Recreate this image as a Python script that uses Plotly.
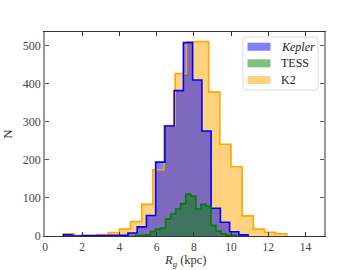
import numpy as np
import plotly.graph_objects as go

# ---- data ----
kepler_range = (0.98, 10.92)
kepler_counts = [3, 0, 1, 1, 1, 2, 2, 8, 24, 54, 194, 289, 382, 508, 410, 276, 73, 36, 11, 3]

tess_range = (4.85, 10.28)
tess_counts = [1, 2, 3, 12, 18, 21, 45, 58, 71, 85, 110, 105, 71, 83, 78, 28, 13, 6, 2, 2]

k2_range = (1.0, 13.0)
k2_counts = [6, 1, 1, 4, 9, 18, 38, 83, 174, 290, 427, 510, 511, 378, 241, 182, 53, 18, 10, 6]

x_ticks = [0, 2, 4, 6, 8, 10, 12, 14]
y_ticks = [0, 100, 200, 300, 400, 500]

FONT = "Liberation Serif, Times New Roman, serif"

fig = go.Figure()


def add_hist(counts, rng, fill, edge):
    counts = np.asarray(counts, dtype=float)
    edges = np.linspace(rng[0], rng[1], len(counts) + 1)
    centers = 0.5 * (edges[:-1] + edges[1:])
    widths = np.diff(edges)
    fig.add_trace(go.Bar(x=centers, y=counts, width=widths, marker=dict(color=fill, line=dict(width=0)),
                         showlegend=False, hoverinfo="skip"))
    xs = np.concatenate([[edges[0]], edges[:-1], [edges[-1], edges[-1]]])
    ys = np.concatenate([[0], counts, [counts[-1], 0]])
    fig.add_trace(go.Scatter(x=xs, y=ys, mode="lines", line=dict(color=edge, width=1.6, shape="hv"),
                             showlegend=False, hoverinfo="skip"))


# draw order: K2 at bottom, Kepler, then TESS on top
add_hist(k2_counts, k2_range, "rgba(255,165,0,0.5)", "#FFA500")
add_hist(kepler_counts, kepler_range, "rgba(0,0,255,0.5)", "#0000FF")
add_hist(tess_counts, tess_range, "rgba(0,128,0,0.5)", "#008000")

# ---- custom legend ----
W, H = 279.0, 204.0
def px(x):
    return (x - 45) / W
def py(y):
    return (236 - y) / H

shapes = []
r = 3
shapes.append(dict(type="path", xref="paper", yref="paper",
                   path=(f"M {px(243+r)},{py(37)} L {px(318-r)},{py(37)} Q {px(318)},{py(37)} {px(318)},{py(37+r)} "
                         f"L {px(318)},{py(90-r)} Q {px(318)},{py(90)} {px(318-r)},{py(90)} "
                         f"L {px(243+r)},{py(90)} Q {px(243)},{py(90)} {px(243)},{py(90-r)} "
                         f"L {px(243)},{py(37+r)} Q {px(243)},{py(37)} {px(243+r)},{py(37)} Z"),
                   line=dict(color="#dddddd", width=1), fillcolor="rgba(255,255,255,0.85)", layer="above"))
legend_items = [("<i>Kepler</i>", "rgba(0,0,255,0.5)", 46.7),
                ("TESS", "rgba(0,128,0,0.5)", 63.3),
                ("K2", "rgba(255,165,0,0.5)", 80.0)]
annotations = []
for label, col, yc in legend_items:
    shapes.append(dict(type="rect", xref="paper", yref="paper", x0=px(247.5), x1=px(270.5),
                       y0=py(yc + 4), y1=py(yc - 4), fillcolor=col, line=dict(width=0), layer="above"))
    annotations.append(dict(x=px(279), y=py(yc), xref="paper", yref="paper", text=label, showarrow=False,
                            xanchor="left", yanchor="middle", font=dict(family=FONT, size=12, color="#222")))

# x-axis title placed precisely
annotations.append(dict(x=px(185), y=py(251.5), xref="paper", yref="paper",
                        text="<i>R</i><sub><i>g</i></sub> (kpc)", showarrow=False, borderpad=0,
                        xanchor="center", yanchor="top", font=dict(family=FONT, size=12.5, color="#333")))

fig.update_layout(
    width=360, height=270,
    margin=dict(l=45, r=36, t=32, b=34, autoexpand=False),
    paper_bgcolor="white", plot_bgcolor="white",
    barmode="overlay", bargap=0,
    showlegend=False,
    font=dict(family=FONT, size=12, color="#333"),
    shapes=shapes, annotations=annotations,
    xaxis=dict(range=[0, 15], tickmode="array", tickvals=x_ticks, ticks="inside", ticklen=4, tickwidth=1,
               tickcolor="#333", showline=True, linecolor="#333", linewidth=1.2, mirror="allticks",
               showgrid=False, zeroline=False, automargin=False,
               tickfont=dict(family=FONT, size=11.5, color="#444")),
    yaxis=dict(range=[0, 536], tickmode="array", tickvals=y_ticks, ticks="inside", ticklen=4, tickwidth=1,
               tickcolor="#555", showline=True, linecolor="#999", linewidth=1.5, mirror="allticks",
               showgrid=False, zeroline=False, automargin=False,
               tickfont=dict(family=FONT, size=12, color="#444"),
               title=dict(text="N", font=dict(family=FONT, size=13, color="#333"), standoff=8)),
)

fig.write_html("out.html", config={"displayModeBar": False},
               post_script="document.body.style.margin='0';document.body.style.padding='0';")
